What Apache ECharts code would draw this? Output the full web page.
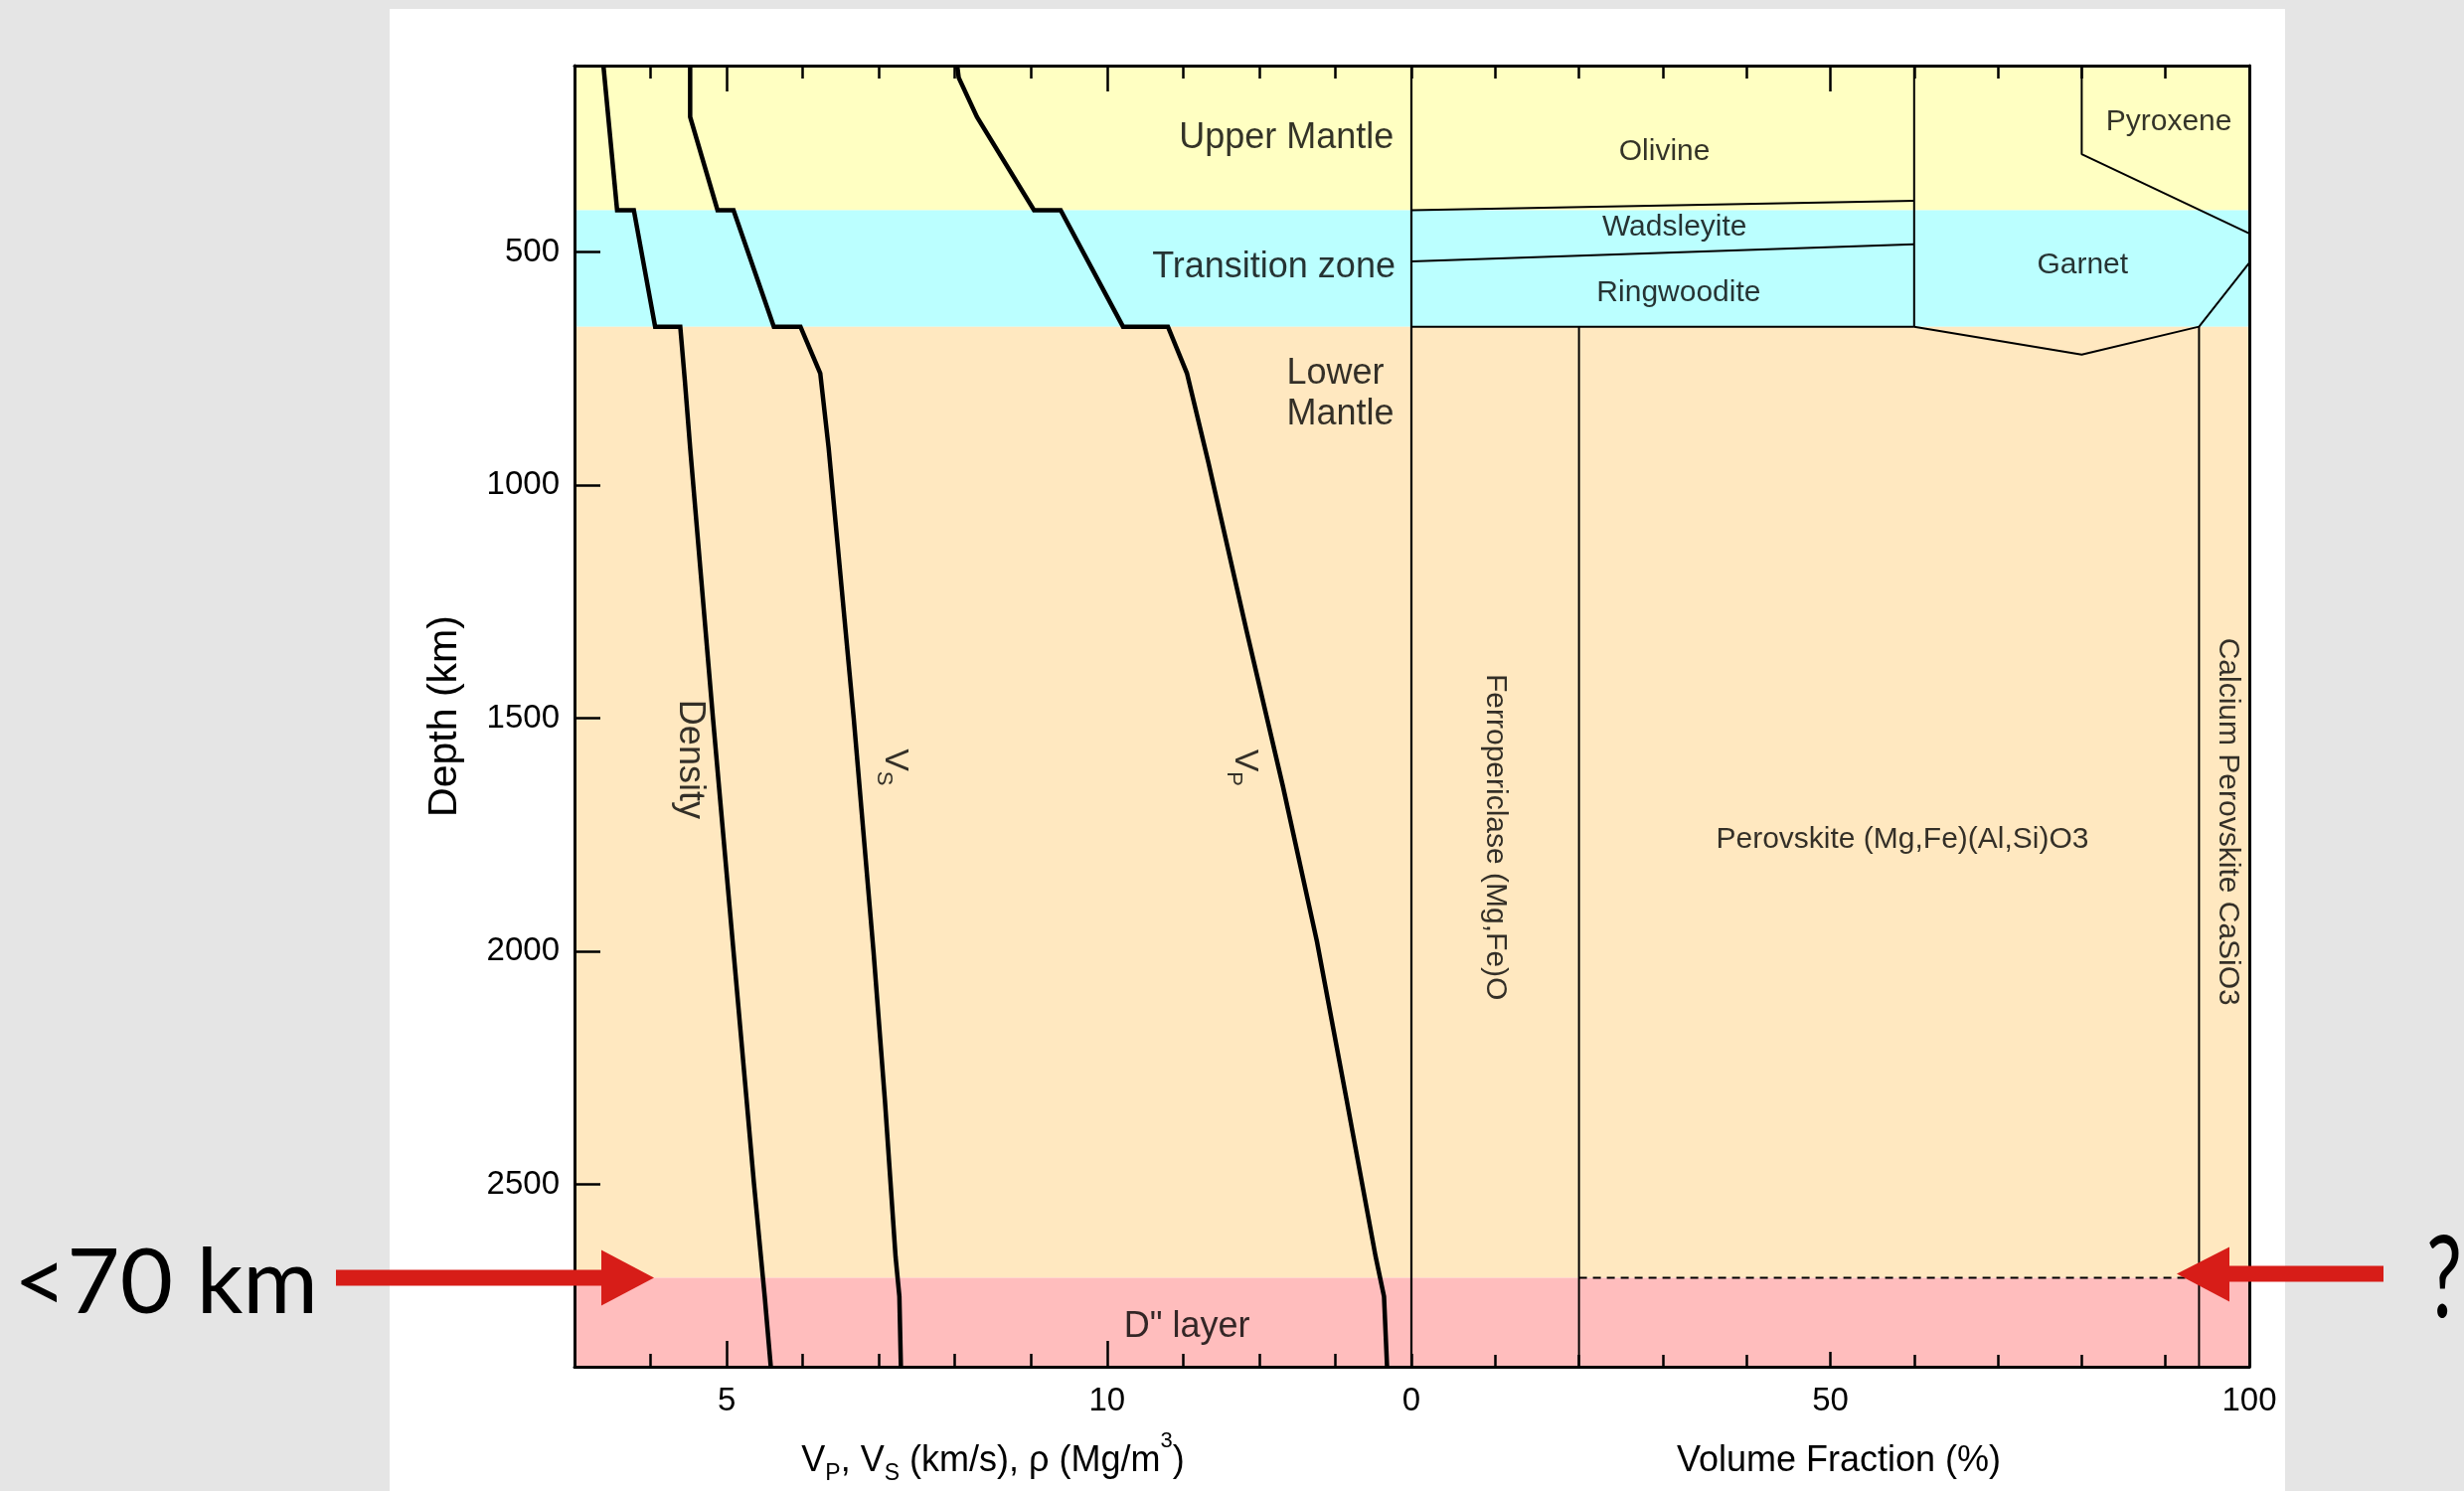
<!DOCTYPE html>
<html>
<head>
<meta charset="utf-8">
<title>Mantle structure and mineralogy</title>
<script src="https://cdn.jsdelivr.net/npm/echarts@6/dist/echarts.min.js"></script>
<style>
  html, body { margin: 0; padding: 0; width: 2479px; height: 1500px; background: #e5e5e5; overflow: hidden; }
  #sheet { position: absolute; left: 392px; top: 9px; width: 1907px; height: 1491px; background: #ffffff; }
  #chart { position: absolute; left: 0; top: 0; width: 2479px; height: 1500px; }
</style>
</head>
<body>
<div id="sheet"></div>
<div id="chart"></div>
<script>
// ---- Axis ticks ----
const depthTicks = [500, 1000, 1500, 2000, 2500];
const velocityTicks = [5, 10];
const fractionTicks = [0, 50, 100];

// ---- Mantle layers (depth, km) ----
const layerNames = ['Upper Mantle', 'Transition zone', 'Lower\nMantle', 'D" layer'];
const layerTop = [100, 410, 660, 2700];
const layerBase = [410, 660, 2700, 2891];

// ---- Seismic profiles: depth (km) and value ----
const vpDepth = [100, 126, 210, 410, 410, 660, 660, 760, 950, 1310, 1645, 1980, 2320, 2655, 2740, 2891];
const vpValue = [8.03, 8.05, 8.29, 9.04, 9.39, 10.21, 10.80, 11.05, 11.33, 11.83, 12.31, 12.76, 13.15, 13.53, 13.64, 13.68];

const vsDepth = [100, 210, 410, 410, 660, 660, 760, 920, 1500, 2000, 2320, 2655, 2740, 2891];
const vsValue = [4.52, 4.52, 4.88, 5.09, 5.62, 5.97, 6.23, 6.34, 6.67, 6.93, 7.08, 7.22, 7.27, 7.29];

const rhoDepth = [100, 410, 410, 660, 660, 775, 920, 1500, 2000, 2500, 2740, 2891];
const rhoValue = [3.38, 3.56, 3.78, 4.06, 4.39, 4.45, 4.52, 4.82, 5.09, 5.36, 5.50, 5.58];

const curveNames = ['Density', 'V{sub|S}', 'V{sub|P}'];

// ---- Mineral phase boundaries: [volume fraction %, depth km] ----
const olivineBase = [[0, 410], [60, 390]];
const wadsleyiteBase = [[0, 520], [60, 483]];
const ringwooditeBase = [[0, 660], [60, 660]];
const olivineGarnetEdge = [[60, 100], [60, 660]];
const pyroxeneEdge = [[80, 100], [80, 290], [100, 460]];
const garnetBase = [[60, 660], [80, 720], [94, 660], [100, 523]];
const ferropericlaseEdge = [[20, 660], [20, 2891]];
const caPerovskiteEdge = [[94, 660], [94, 2891]];
const dLayerTop = [[20, 2700], [94, 2700]];

const mineralNames = ['Olivine', 'Wadsleyite', 'Ringwoodite', 'Garnet', 'Pyroxene',
  'Perovskite (Mg,Fe)(Al,Si)O3', 'Ferropericlase (Mg,Fe)O', 'Calcium Perovskite CaSiO3'];

// ---------------------------------------------------------------
const FONT = '"Liberation Sans", Arial, Helvetica, sans-serif';
const BLACK = '#000000';
const layerColors = ['#FFFFC2', '#BBFFFF', '#FFE8C0', '#FFBDBD'];

const chart = echarts.init(document.getElementById('chart'), null, { renderer: 'canvas' });

const gridTop = 66, gridHeight = 1309;
const grids = [
  { left: 578, top: gridTop, width: 842, height: gridHeight, outerBoundsMode: 'none', containLabel: false },
  { left: 1420, top: gridTop, width: 843, height: gridHeight, outerBoundsMode: 'none', containLabel: false }
];

function lineSt(w) { return { color: BLACK, width: w }; }
const plainNumber = v => String(v);

function tickAxis(opts) {
  return Object.assign({
    type: 'value', z: 10, splitLine: { show: false },
    axisLine: { show: false, onZero: false, lineStyle: lineSt(3) },
    axisLabel: { show: false },
    axisTick: { show: true, inside: true, lineStyle: lineSt(2.5) }
  }, opts);
}

const titleRich = {
  sub: { fontSize: 23, fontFamily: FONT, color: BLACK, verticalAlign: 'bottom', padding: [0, 0, 7, 0] },
  sup: { fontSize: 22, fontFamily: FONT, color: BLACK, verticalAlign: 'top' }
};
const titleStyle = { fontSize: 36, fontFamily: FONT, color: BLACK, lineHeight: 62, rich: titleRich };
const tickLabel = { fontSize: 33, fontFamily: FONT, color: BLACK, formatter: plainNumber };

const xAxes = [
  // left panel: velocities / density
  tickAxis({
    gridIndex: 0, min: 3, max: 14, interval: 1, position: 'bottom',
    axisLine: { show: true, onZero: false, lineStyle: lineSt(3) },
    axisTick: { show: true, inside: true, length: 13, lineStyle: lineSt(2.5) },
    axisLabel: Object.assign({ show: true, customValues: velocityTicks, margin: 18 }, tickLabel),
    name: 'V{sub|P}, V{sub|S} (km/s), \u03C1 (Mg/m{sup|3})',
    nameLocation: 'middle', nameGap: 64, nameTextStyle: titleStyle
  }),
  tickAxis({ gridIndex: 0, min: 3, max: 14, position: 'bottom',
    axisTick: { show: true, inside: true, length: 26, customValues: velocityTicks, lineStyle: lineSt(2.5) } }),
  tickAxis({ gridIndex: 0, min: 3, max: 14, interval: 1, position: 'top',
    axisLine: { show: true, onZero: false, lineStyle: lineSt(3) },
    axisTick: { show: true, inside: true, length: 13, lineStyle: lineSt(2.5) } }),
  tickAxis({ gridIndex: 0, min: 3, max: 14, position: 'top',
    axisTick: { show: true, inside: true, length: 26, customValues: velocityTicks, lineStyle: lineSt(2.5) } }),
  // right panel: volume fraction
  tickAxis({
    gridIndex: 1, min: 0, max: 100, interval: 10, position: 'bottom',
    axisLine: { show: true, onZero: false, lineStyle: lineSt(3) },
    axisTick: { show: true, inside: true, length: 12, lineStyle: lineSt(2.5) },
    axisLabel: Object.assign({ show: true, customValues: fractionTicks, margin: 18 }, tickLabel),
    name: 'Volume Fraction (%)', nameLocation: 'middle', nameGap: 64,
    nameTextStyle: Object.assign({}, titleStyle, { padding: [0, 0, 0, 17] })
  }),
  tickAxis({ gridIndex: 1, min: 0, max: 100, position: 'bottom',
    axisTick: { show: true, inside: true, length: 15, customValues: [50], lineStyle: lineSt(2.5) } }),
  tickAxis({ gridIndex: 1, min: 0, max: 100, interval: 10, position: 'top',
    axisLine: { show: true, onZero: false, lineStyle: lineSt(3) },
    axisTick: { show: true, inside: true, length: 13, lineStyle: lineSt(2.5) } }),
  tickAxis({ gridIndex: 1, min: 0, max: 100, position: 'top',
    axisTick: { show: true, inside: true, length: 26, customValues: [50], lineStyle: lineSt(2.5) } })
];

const depthRange = { type: 'value', inverse: true, min: 100, max: 2891, z: 10, splitLine: { show: false } };
const yAxes = [
  Object.assign({}, depthRange, {
    gridIndex: 0, position: 'left',
    axisLine: { show: true, onZero: false, lineStyle: lineSt(3) },
    axisTick: { show: true, inside: true, length: 26, customValues: depthTicks, lineStyle: lineSt(2.5) },
    axisLabel: Object.assign({ show: true, customValues: depthTicks, margin: 15 }, tickLabel),
    name: 'Depth (km)', nameLocation: 'middle', nameRotate: 90, nameGap: 110,
    nameTextStyle: { fontSize: 41, fontFamily: FONT, color: BLACK }
  }),
  Object.assign({}, depthRange, {
    gridIndex: 0, position: 'right',
    axisLine: { show: true, onZero: false, lineStyle: lineSt(2.2) },
    axisTick: { show: false }, axisLabel: { show: false }
  }),
  Object.assign({}, depthRange, {
    gridIndex: 1, position: 'right',
    axisLine: { show: true, onZero: false, lineStyle: lineSt(3) },
    axisTick: { show: false }, axisLabel: { show: false }
  })
];

// layer colour bands, one set per panel
function bandSeries(xi, yi) {
  return {
    type: 'line', xAxisIndex: xi, yAxisIndex: yi, silent: true, z: 1,
    data: [], symbol: 'none', lineStyle: { opacity: 0 },
    markArea: {
      silent: true,
      data: layerNames.map((n, i) => [
        { yAxis: layerTop[i], itemStyle: { color: layerColors[i], borderWidth: 0 } },
        { yAxis: layerBase[i] }
      ])
    }
  };
}

function zip(values, depths) { return values.map((v, i) => [v, depths[i]]); }

function profile(name, values, depths) {
  return {
    name: name, type: 'line', xAxisIndex: 0, yAxisIndex: 0, z: 4, silent: true,
    symbol: 'none', data: zip(values, depths),
    lineStyle: { color: BLACK, width: 4.5, join: 'miter' }
  };
}

function boundary(points, dashed) {
  return {
    type: 'line', xAxisIndex: 4, yAxisIndex: 2, z: 4, silent: true, symbol: 'none',
    data: points,
    lineStyle: { color: BLACK, width: 2, type: dashed ? [8, 6] : 'solid' }
  };
}

// text placements (axis units)
const layerLabelLayout = [
  { at: [13.77, 255], align: 'right' },
  { at: [13.79, 532], align: 'right' },
  { at: [12.36, 804], align: 'left', lineHeight: 41 },
  { at: [11.05, 2806], align: 'center' }
];
const curveLabelLayout = [[4.52, 1588], [7.21, 1605], [11.81, 1606]];
const curveLabelSize = [36, 34, 34];
const mineralLabelLayout = [
  { at: [30.2, 284] }, { at: [31.4, 446] }, { at: [31.9, 588] }, { at: [80.1, 527] },
  { at: [90.4, 221] }, { at: [58.6, 1760] },
  { at: [9.96, 1755], rotate: -90 }, { at: [97.4, 1722], rotate: -90 }
];

function textItem(name, at, extra) {
  return {
    name: name, value: at,
    label: Object.assign({ align: 'center', verticalAlign: 'middle' }, extra || {})
  };
}

function labelSeries(xi, yi, items, fontSize) {
  return {
    type: 'scatter', xAxisIndex: xi, yAxisIndex: yi, z: 6, silent: true,
    symbol: 'circle', symbolSize: 0.01, itemStyle: { color: 'rgba(0,0,0,0)' },
    data: items,
    label: {
      show: true, position: [0, 0], formatter: '{b}',
      fontSize: fontSize, fontFamily: FONT, color: BLACK
    }
  };
}

const layerItems = layerNames.map((n, i) => {
  const l = layerLabelLayout[i];
  const ex = { align: l.align, verticalAlign: 'middle' };
  if (l.lineHeight) ex.lineHeight = l.lineHeight;
  return textItem(n, l.at, ex);
});

const curveRich = {
  sub: { fontSize: 22, fontFamily: FONT, color: BLACK, verticalAlign: 'bottom' }
};
const curveItems = curveNames.map((n, i) => textItem(n, curveLabelLayout[i],
  { rotate: -90, lineHeight: 44, fontSize: curveLabelSize[i], rich: curveRich }));

const mineralItems = mineralNames.map((n, i) => {
  const l = mineralLabelLayout[i];
  return textItem(n, l.at, l.rotate ? { rotate: l.rotate } : {});
});

const option = {
  backgroundColor: 'transparent',
  animation: false,
  textStyle: { fontFamily: FONT, color: BLACK },
  grid: grids,
  xAxis: xAxes,
  yAxis: yAxes,
  series: [
    bandSeries(0, 0),
    bandSeries(4, 2),
    profile('Density', rhoValue, rhoDepth),
    profile('Vs', vsValue, vsDepth),
    profile('Vp', vpValue, vpDepth),
    boundary(olivineBase),
    boundary(wadsleyiteBase),
    boundary(ringwooditeBase),
    boundary(olivineGarnetEdge),
    boundary(pyroxeneEdge),
    boundary(garnetBase),
    boundary(ferropericlaseEdge),
    boundary(caPerovskiteEdge),
    boundary(dLayerTop, true),
    labelSeries(0, 0, layerItems, 36),
    labelSeries(0, 0, curveItems, 34),
    labelSeries(4, 2, mineralItems, 30)
  ]
};

chart.setOption(option);

// Red call-out arrows at the top of the D" layer
const yD = chart.convertToPixel({ yAxisIndex: 0 }, layerTop[3]);
const arrowRed = '#D71D18';
const yR = yD - 4;
chart.setOption({
  graphic: [
    { type: 'rect', shape: { x: 338, y: yD - 8, width: 270, height: 16 }, style: { fill: arrowRed }, z: 50 },
    { type: 'polygon', shape: { points: [[605, yD - 28], [658, yD], [605, yD + 28]] }, style: { fill: arrowRed }, z: 50 },
    { type: 'text', x: 14, y: yD + 6, z: 50,
      style: { text: '<70 km', font: '92px Lato', fill: BLACK, verticalAlign: 'middle', align: 'left' } },
    { type: 'rect', shape: { x: 2241, y: yR - 8, width: 157, height: 16 }, style: { fill: arrowRed }, z: 50 },
    { type: 'polygon', shape: { points: [[2243, yR - 27], [2190, yR], [2243, yR + 28]] }, style: { fill: arrowRed }, z: 50 },
    { type: 'text', x: 2441, y: yD + 2, scaleX: 0.7, z: 50,
      style: { text: '?', font: '115px Lato', fill: BLACK, verticalAlign: 'middle', align: 'left' } }
  ]
});
</script>
</body>
</html>
